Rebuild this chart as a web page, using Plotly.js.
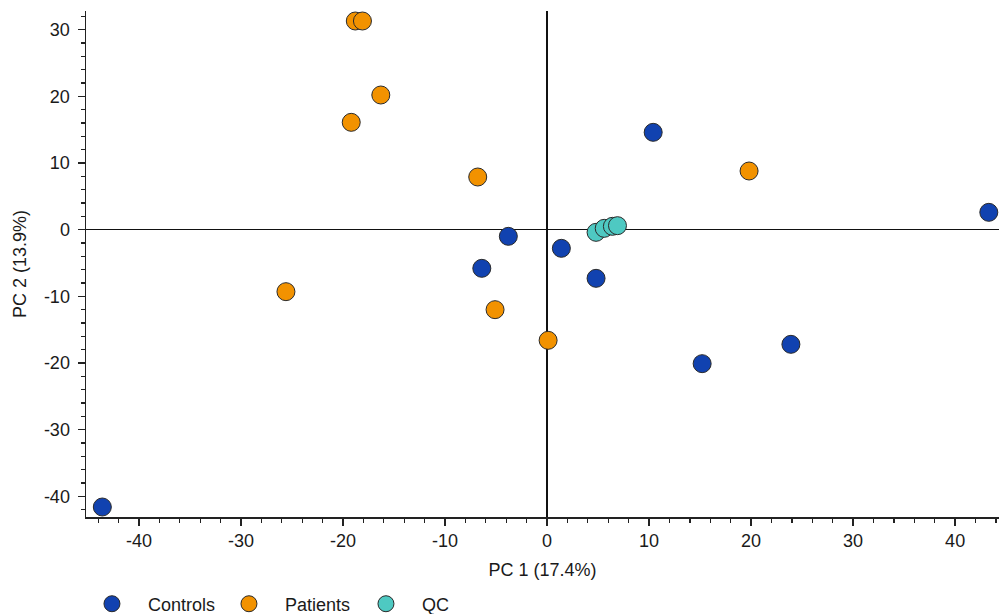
<!DOCTYPE html>
<html>
<head>
<meta charset="utf-8">
<script src="https://cdn.plot.ly/plotly-3.0.1.min.js"></script>
<style>html,body{margin:0;padding:0;background:#fff;}#chart{width:1000px;height:614px;}</style>
</head>
<body>
<div id="chart"></div>
<script>
// Data
const controlsX = [-43.6, 10.4, 43.3, -3.8, 1.4, -6.4, 4.8, 15.2, 23.9];
const controlsY = [-41.6, 14.6, 2.6, -1.0, -2.8, -5.8, -7.3, -20.1, -17.2];
const patientsX = [-18.8, -18.1, -16.3, -19.2, -6.8, 19.8, -25.6, -5.1, 0.1];
const patientsY = [31.3, 31.3, 20.2, 16.1, 7.9, 8.8, -9.3, -12.0, -16.6];
const qcX = [4.8, 5.6, 6.4, 6.9];
const qcY = [-0.4, 0.2, 0.5, 0.6];
const groupNames = ["Controls", "Patients", "QC"];
const xTickVals = [-40, -30, -20, -10, 0, 10, 20, 30, 40];
const xTickText = ["-40", "-30", "-20", "-10", "0", "10", "20", "30", "40"];
const yTickVals = [-40, -30, -20, -10, 0, 10, 20, 30];
const yTickText = ["-40", "-30", "-20", "-10", "0", "10", "20", "30"];
const xTitle = "PC 1 (17.4%)";
const yTitle = "PC 2 (13.9%)";

const colors = ["#1142b0", "#f29200", "#4ec9c2"];
const font = {family: "Liberation Sans, Arial, sans-serif", size: 18, color: "#1a1a1a"};

function mk(x, y, i) {
  return {
    x: x, y: y, type: "scatter", mode: "markers", name: groupNames[i],
    marker: {size: 18, color: colors[i], line: {color: "#2a2a2a", width: 1}},
    cliponaxis: false
  };
}
const data = [mk(controlsX, controlsY, 0), mk(patientsX, patientsY, 1), mk(qcX, qcY, 2)];

const axisCommon = {
  showgrid: false, showline: true, linecolor: "#222", linewidth: 1.5,
  ticks: "outside", ticklen: 7, tickwidth: 1.5, tickcolor: "#222",
  zeroline: true, zerolinecolor: "#111", zerolinewidth: 1.5,
  tickmode: "array", tickfont: font, automargin: false,
  minor: {dtick: 2, tickmode: "linear", ticks: "outside", ticklen: 4, tickwidth: 1.2, tickcolor: "#222", showgrid: false}
};

const layout = {
  width: 1000, height: 614,
  margin: {l: 86, r: 1, t: 11, b: 97, autoexpand: false},
  paper_bgcolor: "#fff", plot_bgcolor: "#fff",
  font: font,
  showlegend: true,
  legend: {orientation: "h", x: -0.011, xanchor: "left", y: -0.172, yanchor: "middle",
           font: font, itemwidth: 62, entrywidth: 60, entrywidthmode: "pixels", itemsizing: "trace"},
  xaxis: Object.assign({}, axisCommon, {
    range: [-45.2, 44.3], tickvals: xTickVals, ticktext: xTickText, ticklabelstandoff: 0,
    title: {text: xTitle, font: font, standoff: 13}
  }),
  yaxis: Object.assign({}, axisCommon, {
    range: [-43.1, 32.8], tickvals: yTickVals, ticktext: yTickText, ticklabelstandoff: 4,
    title: {text: yTitle, font: font, standoff: 12}
  })
};

Plotly.newPlot("chart", data, layout, {displayModeBar: false, staticPlot: true});
</script>
</body>
</html>
